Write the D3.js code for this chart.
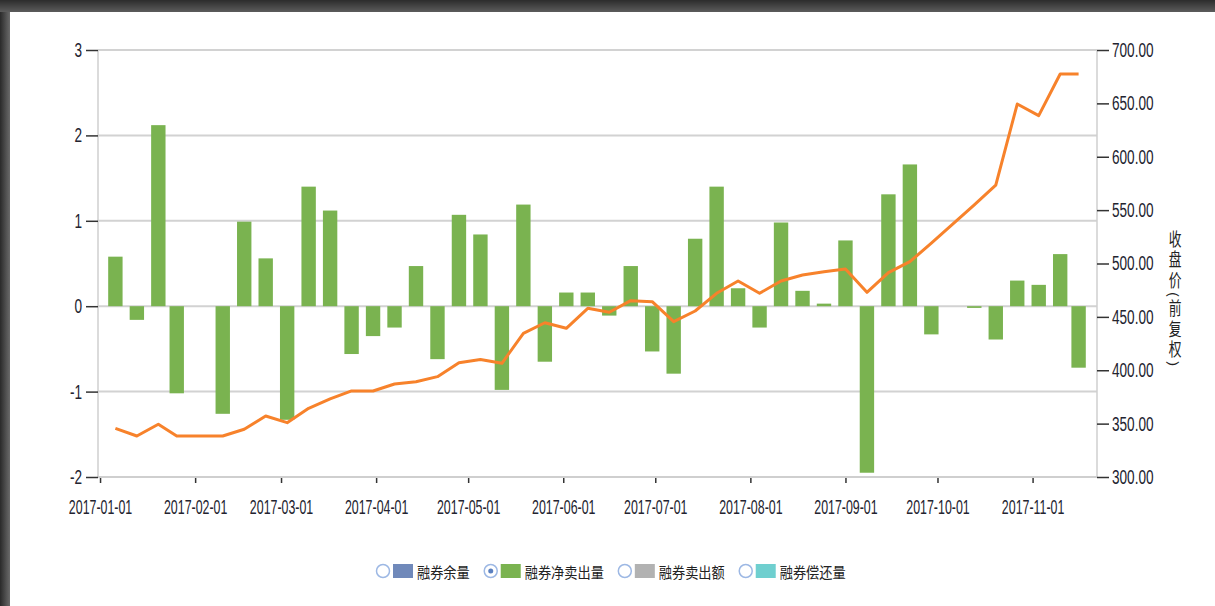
<!DOCTYPE html>
<html>
<head>
<meta charset="utf-8">
<script src="https://cdn.jsdelivr.net/npm/d3@7"></script>
<style>
    body { margin: 0; background: #fff; }
    svg { display: block; }
</style>
</head>
<body>
<div id="svg-container"></div>
<script>
// chart.js

// Weekly dates (last trading day of each week)
const dates = [
    "2017-01-06", "2017-01-13", "2017-01-20", "2017-01-26", "2017-02-10", "2017-02-17",
    "2017-02-24", "2017-03-03", "2017-03-10", "2017-03-17", "2017-03-24", "2017-03-31",
    "2017-04-07", "2017-04-14", "2017-04-21", "2017-04-28", "2017-05-05", "2017-05-12",
    "2017-05-19", "2017-05-26", "2017-06-02", "2017-06-09", "2017-06-16", "2017-06-23",
    "2017-06-30", "2017-07-07", "2017-07-14", "2017-07-21", "2017-07-28", "2017-08-04",
    "2017-08-11", "2017-08-18", "2017-08-25", "2017-09-01", "2017-09-08", "2017-09-15",
    "2017-09-22", "2017-09-29", "2017-10-13", "2017-10-20", "2017-10-27", "2017-11-03",
    "2017-11-10", "2017-11-16"
];

// 融券净卖出量 (left axis)
const netShortSell = [
    0.58, -0.16, 2.12, -1.02, -1.26, 0.99,
    0.56, -1.33, 1.40, 1.12, -0.56, -0.35,
    -0.25, 0.47, -0.62, 1.07, 0.84, -0.98,
    1.19, -0.65, 0.16, 0.16, -0.11, 0.47,
    -0.53, -0.79, 0.79, 1.40, 0.21, -0.25,
    0.98, 0.18, 0.03, 0.77, -1.95, 1.31,
    1.66, -0.33, -0.02, -0.39, 0.30, 0.25,
    0.61, -0.72
];

// 收盘价(前复权) (right axis)
const closePrice = [
    345.6, 338.4, 349.4, 338.4, 338.4, 344.7,
    357.1, 350.9, 364.4, 373.1, 380.6, 380.6,
    387.1, 389.3, 394.0, 407.1, 410.0, 406.5,
    434.6, 444.5, 439.3, 458.0, 454.3, 465.2,
    464.2, 445.5, 455.5, 472.1, 483.6, 472.1,
    483.6, 489.2, 492.3, 494.8, 473.0, 491.4,
    501.7, 519.0, 555.0, 573.5, 649.4, 638.5,
    677.5, 677.5
];

const leftTicks = [-2, -1, 0, 1, 2, 3];
const rightTicks = [300, 350, 400, 450, 500, 550, 600, 650, 700];
const rightTitle = "收盘价(前复权)";

const legendItems = [
    { name: "融券余量", color: "#7089ba", selected: false },
    { name: "融券净卖出量", color: "#7ab350", selected: true },
    { name: "融券卖出额", color: "#b2b2b2", selected: false },
    { name: "融券偿还量", color: "#6fcfcf", selected: false }
];

// Dimensions
const width = 1215;
const height = 606;
const plot = { left: 98, right: 1097, top: 50, bottom: 477 };
const numFont = "'Liberation Sans', Arial, sans-serif";
const cjkFont = "'Noto Sans CJK SC', sans-serif";

const parseDate = d3.timeParse("%Y-%m-%d");
const data = dates.map((d, i) => ({ date: parseDate(d), net: netShortSell[i], price: closePrice[i] }));

const svg = d3.select('#svg-container').append('svg')
    .attr('width', width)
    .attr('height', height);

// dark window frame (top and left edges)
const defs = svg.append("defs");
const gTop = defs.append("linearGradient").attr("id", "gTop").attr("x1", 0).attr("y1", 0).attr("x2", 0).attr("y2", 1);
gTop.append("stop").attr("offset", "0%").attr("stop-color", "#2c2c2c");
gTop.append("stop").attr("offset", "100%").attr("stop-color", "#5c5c5c");
const gLeft = defs.append("linearGradient").attr("id", "gLeft").attr("x1", 0).attr("y1", 0).attr("x2", 1).attr("y2", 0);
gLeft.append("stop").attr("offset", "0%").attr("stop-color", "#2a2a2a");
gLeft.append("stop").attr("offset", "100%").attr("stop-color", "#6a6a6a");

svg.append("rect").attr("x", 0).attr("y", 0).attr("width", width).attr("height", height).attr("fill", "#fff");
svg.append("rect").attr("x", 0).attr("y", 0).attr("width", 10).attr("height", height).attr("fill", "url(#gLeft)");
svg.append("rect").attr("x", 0).attr("y", 0).attr("width", width).attr("height", 12).attr("fill", "url(#gTop)");

// Scales
const x = d3.scaleTime()
    .domain([new Date(2016, 11, 31, 8), new Date(2017, 10, 22)])
    .range([plot.left, plot.right]);

const yLeft = d3.scaleLinear()
    .domain([-2, 3])
    .range([plot.bottom, plot.top]);

const yRight = d3.scaleLinear()
    .domain([300, 700])
    .range([plot.bottom, plot.top]);

// Grid lines
svg.append("g")
    .selectAll("line")
    .data(leftTicks)
    .enter()
    .append("line")
    .attr("x1", plot.left)
    .attr("x2", plot.right)
    .attr("y1", d => yLeft(d))
    .attr("y2", d => yLeft(d))
    .attr("stroke", "#d2d2d2")
    .attr("stroke-width", 2);

// side axis lines
svg.append("line").attr("x1", plot.left).attr("x2", plot.left).attr("y1", plot.top).attr("y2", plot.bottom)
    .attr("stroke", "#cfcfcf").attr("stroke-width", 1.5);
svg.append("line").attr("x1", plot.right).attr("x2", plot.right).attr("y1", plot.top).attr("y2", plot.bottom)
    .attr("stroke", "#cfcfcf").attr("stroke-width", 1.5);

// Bars
const barW = (x(new Date(2017, 0, 8)) - x(new Date(2017, 0, 1))) * 0.67;
svg.append("g")
    .selectAll("rect")
    .data(data)
    .enter()
    .append("rect")
    .attr("x", d => x(d.date) - barW / 2)
    .attr("y", d => yLeft(Math.max(0, d.net)))
    .attr("width", barW)
    .attr("height", d => Math.abs(yLeft(d.net) - yLeft(0)))
    .attr("fill", "#7ab350");

// Price line
const line = d3.line()
    .x(d => x(d.date))
    .y(d => yRight(d.price));

svg.append("path")
    .datum(data)
    .attr("fill", "none")
    .attr("stroke", "#f7822b")
    .attr("stroke-width", 3)
    .attr("stroke-linejoin", "round")
    .attr("d", line);

// squeeze tick labels horizontally (the reference uses a tall, narrow face)
function squeeze(sel, sx) {
    sel.each(function () {
        const t = d3.select(this);
        const xv = +t.attr("x") || 0;
        t.attr("x", xv / sx).attr("transform", `scale(${sx},1)`);
    });
}

// Axes
const styleAxis = (sx, size) => g => {
    g.select(".domain").remove();
    g.selectAll(".tick line").attr("stroke", "#333").attr("stroke-width", 1.5);
    g.selectAll(".tick text")
        .attr("fill", "#23232f")
        .style("font-family", numFont)
        .style("font-size", size + "px")
        .call(squeeze, sx);
};

svg.append("g")
    .attr("transform", `translate(${plot.left},0)`)
    .call(d3.axisLeft(yLeft).tickValues(leftTicks).tickSize(12).tickPadding(4).tickFormat(d => String(d)))
    .call(styleAxis(0.68, 20));

svg.append("g")
    .attr("transform", `translate(${plot.right},0)`)
    .call(d3.axisRight(yRight).tickValues(rightTicks).tickSize(12).tickPadding(3).tickFormat(d3.format(".2f")))
    .call(styleAxis(0.68, 20));

svg.append("g")
    .attr("transform", `translate(0,${plot.bottom})`)
    .call(d3.axisBottom(x).ticks(d3.timeMonth.every(1)).tickSize(6).tickPadding(17).tickFormat(d3.timeFormat("%Y-%m-%d")))
    .call(styleAxis(0.62, 20));

// bottom axis line
svg.append("line").attr("x1", plot.left).attr("x2", plot.right).attr("y1", plot.bottom).attr("y2", plot.bottom)
    .attr("stroke", "#cfcfcf").attr("stroke-width", 2);

// Right axis title, vertical writing
svg.append("text")
    .attr("transform", "translate(1175,230) scale(0.85,1.2)")
    .attr("x", 0)
    .attr("y", 0)
    .attr("fill", "#222")
    .style("writing-mode", "vertical-rl")
    .style("font-family", cjkFont)
    .style("font-size", "15px")
    .style("letter-spacing", "2px")
    .text(rightTitle);

// Legend
const legend = svg.append("g");
const legendScale = 0.88;
let lx = 376;
const ly = 571;
legendItems.forEach(item => {
    const g = legend.append("g");
    g.append("circle")
        .attr("cx", lx + 7).attr("cy", ly).attr("r", 6.5)
        .attr("fill", "#fff").attr("stroke", "#9db8e4").attr("stroke-width", 1.5);
    if (item.selected) {
        g.append("circle").attr("cx", lx + 7).attr("cy", ly).attr("r", 2.5).attr("fill", "#5a80c0");
    }
    g.append("rect")
        .attr("x", lx + 17).attr("y", ly - 7)
        .attr("width", 20).attr("height", 14)
        .attr("fill", item.color);
    const t = g.append("text")
        .attr("transform", `translate(${lx + 41},${ly + 1}) scale(${legendScale},1)`)
        .attr("dominant-baseline", "central")
        .attr("fill", "#222")
        .style("font-family", cjkFont)
        .style("font-size", "15px")
        .text(item.name);
    lx += 41 + t.node().getComputedTextLength() * legendScale + 14;
});
</script>
</body>
</html>
